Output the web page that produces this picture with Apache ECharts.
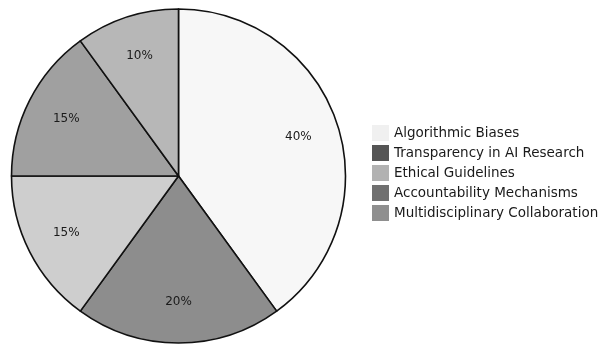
<!DOCTYPE html>
<html>
<head>
<meta charset="utf-8">
<script src="https://cdn.jsdelivr.net/npm/echarts@6/dist/echarts.min.js"></script>
<style>
html,body{margin:0;padding:0;background:#fff;}
#chart{width:602px;height:345px;}
</style>
</head>
<body>
<div id="chart"></div>
<script>
const categories = ['Algorithmic Biases', 'Transparency in AI Research', 'Ethical Guidelines', 'Accountability Mechanisms', 'Multidisciplinary Collaboration'];
const values = [40, 20, 15, 15, 10];
const sliceColors = ['#f7f7f7', '#8d8d8d', '#cecece', '#a0a0a0', '#b7b7b7'];
const legendColors = ['#f0f0f0', '#555555', '#b2b2b2', '#707070', '#8f8f8f'];

const chart = echarts.init(document.getElementById('chart'), null, { renderer: 'canvas' });
chart.setOption({
  animation: false,
  backgroundColor: '#ffffff',
  textStyle: { fontFamily: 'DejaVu Sans' },
  legend: {
    orient: 'vertical',
    left: 372,
    top: 125,
    padding: 0,
    itemWidth: 17,
    itemHeight: 16,
    itemGap: 4,
    icon: 'rect',
    itemStyle: { borderWidth: 0 },
    textStyle: { fontFamily: 'DejaVu Sans', fontSize: 13.5, color: '#1a1a1a' },
    data: categories.map((name, i) => ({ name: name, itemStyle: { color: legendColors[i], borderWidth: 0 } }))
  },
  series: [
    {
      type: 'pie',
      center: [178.5, 176],
      radius: [0, 167],
      startAngle: 90,
      clockwise: true,
      silent: true,
      label: { show: false },
      labelLine: { show: false },
      itemStyle: { borderColor: '#111111', borderWidth: 1.6 },
      emphasis: { disabled: true },
      data: categories.map((name, i) => ({ name: name, value: values[i], itemStyle: { color: sliceColors[i] } }))
    },
    {
      type: 'pie',
      center: [178.5, 176],
      radius: [0, 246],
      startAngle: 90,
      clockwise: true,
      silent: true,
      itemStyle: { color: 'rgba(0,0,0,0)', borderWidth: 0 },
      label: {
        show: true,
        position: 'inside',
        formatter: '{c}%',
        fontFamily: 'DejaVu Sans',
        fontSize: 12,
        color: '#1a1a1a'
      },
      labelLine: { show: false },
      emphasis: { disabled: true },
      data: categories.map((name, i) => ({ name: name, value: values[i] }))
    }
  ]
});
</script>
</body>
</html>
